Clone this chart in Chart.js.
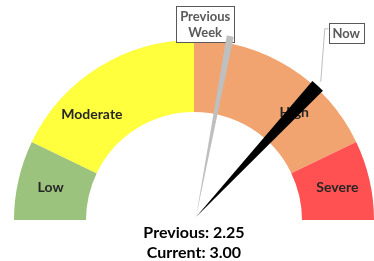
<!DOCTYPE html>
<html>
<head>
<meta charset="utf-8">
<script src="https://cdn.jsdelivr.net/npm/chart.js@4"></script>
<style>
html, body { margin: 0; padding: 0; background: #fff; }
#wrap { width: 374px; height: 261px; position: relative; }
</style>
</head>
<body>
<div id="wrap"><canvas id="gauge"></canvas></div>
<script>
// gauge bands (sizes in scale units, starting at gaugeMin)
var bandLabels = ['Low', 'Moderate', 'High', 'Severe'];
var bandSizes = [0.6, 1.5, 1.5, 0.6];
var bandColors = ['#9CC37D', '#FFFF3D', '#F1A46F', '#FF5151'];
var gaugeMin = -0.1;

// needle values
var needleNames = ['Previous', 'Current'];
var needleValues = [2.25, 3.00];
var needleCallouts = [['Previous', 'Week'], ['Now']];

var FONT = 'Lato, "Open Sans", sans-serif';

function gaugeTotal() {
	var t = 0;
	for (var i = 0; i < bandSizes.length; i++) t += bandSizes[i];
	return t;
}

function valueToAngle(v) {
	// left end of half doughnut is PI, right end is 2*PI (canvas angles)
	return Math.PI + (v - gaugeMin) / gaugeTotal() * Math.PI;
}

var gaugeOverlay = {
	id: 'gaugeOverlay',
	afterDatasetsDraw: function (chart) {
		var ctx = chart.ctx;
		var arc = chart.getDatasetMeta(0).data[0];
		var cx = arc.x, cy = arc.y;
		var outer = arc.outerRadius, inner = arc.innerRadius;

		// band labels
		var labelAngles = [12.8, 46, 133, 167.2];
		var labelR = (outer + inner) / 2 + 3;
		ctx.save();
		ctx.font = 'bold 14px ' + FONT;
		ctx.fillStyle = '#262626';
		ctx.textAlign = 'center';
		ctx.textBaseline = 'middle';
		for (var i = 0; i < bandLabels.length; i++) {
			var a = Math.PI + labelAngles[i] * Math.PI / 180;
			ctx.fillText(bandLabels[i], cx + labelR * Math.cos(a), cy + labelR * Math.sin(a));
		}
		ctx.restore();

		var prevA = valueToAngle(needleValues[0]);
		var curA = valueToAngle(needleValues[1]);
		var px = cx + 2, py = cy - 3;
		var prevLen = outer + 4, curLen = outer - 1;
		var prevTip = {x: px + prevLen * Math.cos(prevA), y: py + prevLen * Math.sin(prevA)};
		var curTip = {x: px + curLen * Math.cos(curA), y: py + curLen * Math.sin(curA)};

		// callout: previous week
		ctx.save();
		ctx.font = 'bold 13px ' + FONT;
		ctx.textAlign = 'center';
		ctx.textBaseline = 'middle';
		var bx = prevTip.x - 54, by = prevTip.y - 30, bw = 58, bh = 36;
		ctx.fillStyle = '#fff';
		ctx.fillRect(bx, by, bw, bh);
		ctx.strokeStyle = '#595959';
		ctx.lineWidth = 1;
		ctx.strokeRect(Math.round(bx) + 0.5, Math.round(by) + 0.5, bw, bh);
		ctx.fillStyle = '#595959';
		ctx.fillText(needleCallouts[0][0], bx + bw / 2, by + 11);
		ctx.fillText(needleCallouts[0][1], bx + bw / 2, by + 27);

		// callout: now
		var nx = curTip.x + 11, ny = curTip.y - 63, nw = 35, nh = 20;
		ctx.strokeStyle = '#BFBFBF';
		ctx.beginPath();
		ctx.moveTo(curTip.x + 3, curTip.y - 4);
		ctx.lineTo(nx - 4, ny + 6);
		ctx.lineTo(nx, ny + 6);
		ctx.stroke();
		ctx.fillStyle = '#fff';
		ctx.fillRect(nx, ny, nw, nh);
		ctx.strokeStyle = '#595959';
		ctx.strokeRect(Math.round(nx) + 0.5, Math.round(ny) + 0.5, nw, nh);
		ctx.fillStyle = '#595959';
		ctx.fillText(needleCallouts[1][0], nx + nw / 2, ny + nh / 2 + 1);
		ctx.restore();

		// needles (thin pie wedges)
		function wedge(a, len, halfDeg, color) {
			var h = halfDeg * Math.PI / 180;
			ctx.beginPath();
			ctx.moveTo(px, py);
			ctx.arc(px, py, len, a - h, a + h);
			ctx.closePath();
			ctx.fillStyle = color;
			ctx.fill();
		}
		ctx.save();
		wedge(prevA, prevLen, 1.1, '#BFBFBF');
		wedge(curA, curLen, 2.3, '#000000');
		ctx.restore();

		// summary text
		ctx.save();
		ctx.font = 'bold 16px ' + FONT;
		ctx.fillStyle = '#000';
		ctx.textAlign = 'center';
		ctx.textBaseline = 'middle';
		ctx.fillText(needleNames[0] + ': ' + needleValues[0].toFixed(2), cx, 233);
		ctx.fillText(needleNames[1] + ': ' + needleValues[1].toFixed(2), cx, 253);
		ctx.restore();
	}
};

new Chart(document.getElementById('gauge').getContext('2d'), {
	type: 'doughnut',
	data: {
		labels: bandLabels,
		datasets: [{
			data: bandSizes,
			backgroundColor: bandColors,
			borderWidth: 0,
			hoverOffset: 0
		}]
	},
	options: {
		responsive: true,
		maintainAspectRatio: false,
		animation: false,
		rotation: -90,
		circumference: 180,
		cutout: '60%',
		layout: {padding: {left: 14, right: 0, top: 40, bottom: 41}},
		plugins: {
			legend: {display: false},
			tooltip: {enabled: false}
		},
		events: []
	},
	plugins: [gaugeOverlay]
});
</script>
</body>
</html>
